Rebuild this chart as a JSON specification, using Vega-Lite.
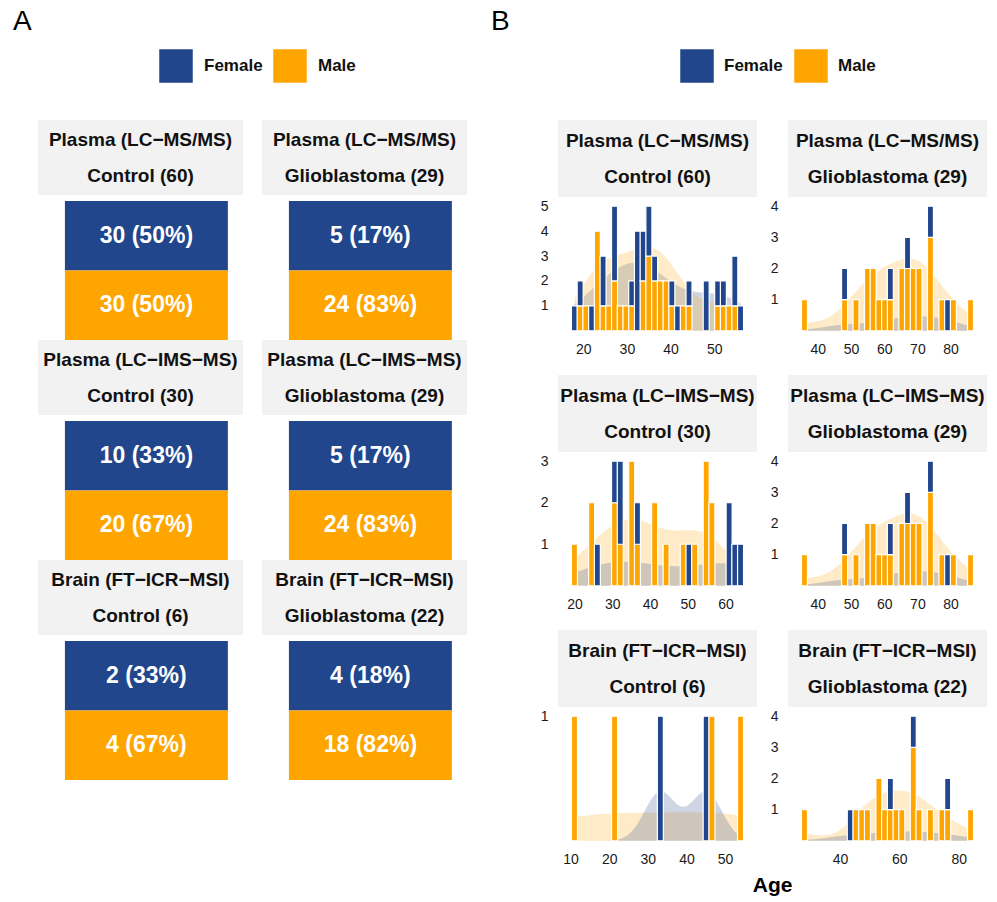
{
  "$schema": "https://vega.github.io/schema/vega-lite/v6.json",
  "padding": {"left": 13, "top": 8, "right": 5, "bottom": 3},
  "background": "white",
  "config": {
    "font": "Liberation Sans",
    "view": {"stroke": null},
    "axis": {"grid": false, "ticks": false, "domain": false, "labelFontSize": 14, "labelColor": "#1a1a1a", "labelFont": "Liberation Sans"},
    "axisX": {"labelPadding": 5},
    "axisY": {"labelPadding": 10},
    "title": {"font": "Liberation Sans", "color": "#000"},
    "text": {"font": "Liberation Sans"}
  },
  "datasets": {
    "panels": [
      {"p": 1, "tech": "Plasma (LC−MS/MS)", "grp": "Control (60)"},
      {"p": 2, "tech": "Plasma (LC−MS/MS)", "grp": "Glioblastoma (29)"},
      {"p": 3, "tech": "Plasma (LC−IMS−MS)", "grp": "Control (30)"},
      {"p": 4, "tech": "Plasma (LC−IMS−MS)", "grp": "Glioblastoma (29)"},
      {"p": 5, "tech": "Brain (FT−ICR−MSI)", "grp": "Control (6)"},
      {"p": 6, "tech": "Brain (FT−ICR−MSI)", "grp": "Glioblastoma (22)"}
    ],
    "legend": [{"s": "F", "lab": "Female"}, {"s": "M", "lab": "Male"}],
    "acounts": [
      {"p": 1, "s": "F", "n": 30, "lab": "30 (50%)"}, {"p": 1, "s": "M", "n": 30, "lab": "30 (50%)"},
      {"p": 2, "s": "F", "n": 5, "lab": "5 (17%)"}, {"p": 2, "s": "M", "n": 24, "lab": "24 (83%)"},
      {"p": 3, "s": "F", "n": 10, "lab": "10 (33%)"}, {"p": 3, "s": "M", "n": 20, "lab": "20 (67%)"},
      {"p": 4, "s": "F", "n": 5, "lab": "5 (17%)"}, {"p": 4, "s": "M", "n": 24, "lab": "24 (83%)"},
      {"p": 5, "s": "F", "n": 2, "lab": "2 (33%)"}, {"p": 5, "s": "M", "n": 4, "lab": "4 (67%)"},
      {"p": 6, "s": "F", "n": 4, "lab": "4 (18%)"}, {"p": 6, "s": "M", "n": 18, "lab": "18 (82%)"}
    ],
    "ages": [
      {"p":1,"s":"F","a":18},
      {"p":1,"s":"M","a":19.31},{"p":1,"s":"F","a":19.31},
      {"p":1,"s":"M","a":20.62},
      {"p":1,"s":"F","a":21.93},
      {"p":1,"s":"M","a":23.24},{"p":1,"s":"M","a":23.24},{"p":1,"s":"M","a":23.24},{"p":1,"s":"M","a":23.24},
      {"p":1,"s":"M","a":24.55},{"p":1,"s":"F","a":24.55},{"p":1,"s":"F","a":24.55},
      {"p":1,"s":"M","a":25.86},
      {"p":1,"s":"M","a":27.17},{"p":1,"s":"M","a":27.17},{"p":1,"s":"F","a":27.17},{"p":1,"s":"F","a":27.17},{"p":1,"s":"F","a":27.17},
      {"p":1,"s":"M","a":28.48},
      {"p":1,"s":"M","a":29.79},
      {"p":1,"s":"M","a":31.1},{"p":1,"s":"F","a":31.1},
      {"p":1,"s":"F","a":32.41},{"p":1,"s":"F","a":32.41},{"p":1,"s":"F","a":32.41},{"p":1,"s":"F","a":32.41},
      {"p":1,"s":"M","a":33.72},{"p":1,"s":"M","a":33.72},{"p":1,"s":"F","a":33.72},{"p":1,"s":"F","a":33.72},
      {"p":1,"s":"M","a":35.03},{"p":1,"s":"M","a":35.03},{"p":1,"s":"M","a":35.03},{"p":1,"s":"F","a":35.03},{"p":1,"s":"F","a":35.03},
      {"p":1,"s":"M","a":36.34},{"p":1,"s":"M","a":36.34},{"p":1,"s":"F","a":36.34},
      {"p":1,"s":"M","a":37.66},{"p":1,"s":"M","a":37.66},
      {"p":1,"s":"M","a":38.97},{"p":1,"s":"M","a":38.97},
      {"p":1,"s":"M","a":40.28},{"p":1,"s":"F","a":40.28},
      {"p":1,"s":"F","a":41.59},
      {"p":1,"s":"M","a":42.9},
      {"p":1,"s":"M","a":44.21},{"p":1,"s":"F","a":44.21},
      {"p":1,"s":"F","a":48.14},{"p":1,"s":"F","a":48.14},
      {"p":1,"s":"M","a":50.76},{"p":1,"s":"F","a":50.76},
      {"p":1,"s":"M","a":52.07},{"p":1,"s":"F","a":52.07},
      {"p":1,"s":"M","a":53.38},
      {"p":1,"s":"M","a":54.69},{"p":1,"s":"F","a":54.69},{"p":1,"s":"F","a":54.69},
      {"p":1,"s":"F","a":56},

      {"p":2,"s":"M","a":36},
      {"p":2,"s":"M","a":48.07},{"p":2,"s":"F","a":48.07},
      {"p":2,"s":"M","a":51.52},
      {"p":2,"s":"M","a":54.97},{"p":2,"s":"M","a":54.97},
      {"p":2,"s":"M","a":56.69},{"p":2,"s":"M","a":56.69},
      {"p":2,"s":"M","a":58.41},
      {"p":2,"s":"M","a":60.14},
      {"p":2,"s":"M","a":61.86},{"p":2,"s":"F","a":61.86},
      {"p":2,"s":"M","a":65.31},{"p":2,"s":"M","a":65.31},
      {"p":2,"s":"M","a":67.03},{"p":2,"s":"M","a":67.03},{"p":2,"s":"F","a":67.03},
      {"p":2,"s":"M","a":68.76},{"p":2,"s":"M","a":68.76},
      {"p":2,"s":"M","a":70.48},{"p":2,"s":"M","a":70.48},
      {"p":2,"s":"M","a":73.93},{"p":2,"s":"M","a":73.93},{"p":2,"s":"M","a":73.93},{"p":2,"s":"F","a":73.93},
      {"p":2,"s":"M","a":77.38},
      {"p":2,"s":"F","a":79.1},
      {"p":2,"s":"M","a":80.83},
      {"p":2,"s":"M","a":86},

      {"p":3,"s":"M","a":20},
      {"p":3,"s":"M","a":24.55},{"p":3,"s":"M","a":24.55},
      {"p":3,"s":"F","a":26.07},
      {"p":3,"s":"M","a":30.62},{"p":3,"s":"M","a":30.62},{"p":3,"s":"F","a":30.62},
      {"p":3,"s":"M","a":32.14},{"p":3,"s":"F","a":32.14},{"p":3,"s":"F","a":32.14},
      {"p":3,"s":"M","a":35.17},{"p":3,"s":"M","a":35.17},{"p":3,"s":"M","a":35.17},
      {"p":3,"s":"M","a":36.69},{"p":3,"s":"F","a":36.69},
      {"p":3,"s":"M","a":41.24},{"p":3,"s":"M","a":41.24},
      {"p":3,"s":"M","a":44.28},
      {"p":3,"s":"M","a":48.83},
      {"p":3,"s":"F","a":50.34},
      {"p":3,"s":"M","a":51.86},
      {"p":3,"s":"M","a":54.9},{"p":3,"s":"M","a":54.9},{"p":3,"s":"M","a":54.9},
      {"p":3,"s":"M","a":56.41},{"p":3,"s":"M","a":56.41},
      {"p":3,"s":"F","a":60.97},{"p":3,"s":"F","a":60.97},
      {"p":3,"s":"F","a":62.48},
      {"p":3,"s":"F","a":64},

      {"p":5,"s":"M","a":11},
      {"p":5,"s":"M","a":21.38},
      {"p":5,"s":"F","a":33.24},
      {"p":5,"s":"F","a":45.1},
      {"p":5,"s":"M","a":46.59},
      {"p":5,"s":"M","a":54},

      {"p":6,"s":"M","a":28},
      {"p":6,"s":"F","a":43.45},
      {"p":6,"s":"M","a":45.38},
      {"p":6,"s":"M","a":47.31},
      {"p":6,"s":"M","a":49.24},
      {"p":6,"s":"M","a":53.1},{"p":6,"s":"M","a":53.1},
      {"p":6,"s":"M","a":55.03},
      {"p":6,"s":"M","a":56.97},{"p":6,"s":"F","a":56.97},
      {"p":6,"s":"M","a":58.9},
      {"p":6,"s":"M","a":60.83},
      {"p":6,"s":"M","a":64.69},{"p":6,"s":"M","a":64.69},{"p":6,"s":"M","a":64.69},{"p":6,"s":"F","a":64.69},
      {"p":6,"s":"M","a":66.62},
      {"p":6,"s":"M","a":70.48},
      {"p":6,"s":"M","a":74.34},
      {"p":6,"s":"M","a":76.28},{"p":6,"s":"F","a":76.28},
      {"p":6,"s":"M","a":84}
    ]
  },
  "spacing": 24,
  "hconcat": [
    {
      "title": {"text": "A", "anchor": "start", "frame": "group", "fontSize": 28, "fontWeight": "normal", "dx": -25, "offset": 10},
      "spacing": 34,
      "vconcat": [
        {
          "width": 429, "height": 40,
          "data": {"name": "legend"},
          "encoding": {"x": {"field": "s", "type": "nominal", "axis": null, "scale": {"type": "point", "range": [121, 235], "padding": 0}}},
          "layer": [
            {"mark": {"type": "square", "size": 1156, "opacity": 1, "xOffset": 17, "stroke": "#ffffff", "strokeWidth": 0.5},
             "encoding": {"color": {"field": "s", "type": "nominal", "scale": {"domain": ["F", "M"], "range": ["#21468B", "#FFA500"]}, "legend": null}}},
            {"mark": {"type": "text", "align": "left", "dx": 45, "fontSize": 17, "fontWeight": "bold", "color": "#111"},
             "encoding": {"text": {"field": "lab"}}}
          ]
        },
        {
          "spacing": 0,
          "vconcat": [
            {"spacing": 19, "hconcat": [
              {"spacing": 6, "vconcat": [
                {"width": 205, "height": 75, "view": {"fill": "#f2f2f2", "stroke": null}, "data": {"name": "panels"}, "transform": [{"filter": "datum.p == 1"}],
                 "layer": [
                   {"mark": {"type": "text", "fontSize": 19, "fontWeight": "bold", "dy": -18, "color": "#111"}, "encoding": {"text": {"field": "tech"}}},
                   {"mark": {"type": "text", "fontSize": 19, "fontWeight": "bold", "dy": 18, "color": "#111"}, "encoding": {"text": {"field": "grp"}}}
                 ]},
                {"width": 205, "height": 139, "data": {"name": "acounts"}, "transform": [{"filter": "datum.p == 1"}],
                 "encoding": {
                   "x": {"field": "p", "type": "nominal", "axis": null, "scale": {"paddingInner": 0, "paddingOuter": 0.129, "align": 0.64}},
                   "y": {"field": "s", "type": "nominal", "axis": null, "sort": ["F", "M"], "scale": {"paddingInner": 0, "paddingOuter": 0}}
                 },
                 "layer": [
                   {"mark": {"type": "rect"}, "encoding": {"color": {"field": "s", "type": "nominal", "scale": {"domain": ["F", "M"], "range": ["#21468B", "#FFA500"]}, "legend": null}}},
                   {"mark": {"type": "text", "color": "white", "fontSize": 23, "fontWeight": "bold"}, "encoding": {"text": {"field": "lab"}}}
                 ]}
              ]},
              {"spacing": 6, "vconcat": [
                {"width": 205, "height": 75, "view": {"fill": "#f2f2f2", "stroke": null}, "data": {"name": "panels"}, "transform": [{"filter": "datum.p == 2"}],
                 "layer": [
                   {"mark": {"type": "text", "fontSize": 19, "fontWeight": "bold", "dy": -18, "color": "#111"}, "encoding": {"text": {"field": "tech"}}},
                   {"mark": {"type": "text", "fontSize": 19, "fontWeight": "bold", "dy": 18, "color": "#111"}, "encoding": {"text": {"field": "grp"}}}
                 ]},
                {"width": 205, "height": 139, "data": {"name": "acounts"}, "transform": [{"filter": "datum.p == 2"}],
                 "encoding": {
                   "x": {"field": "p", "type": "nominal", "axis": null, "scale": {"paddingInner": 0, "paddingOuter": 0.129, "align": 0.64}},
                   "y": {"field": "s", "type": "nominal", "axis": null, "sort": ["F", "M"], "scale": {"paddingInner": 0, "paddingOuter": 0}}
                 },
                 "layer": [
                   {"mark": {"type": "rect"}, "encoding": {"color": {"field": "s", "type": "nominal", "scale": {"domain": ["F", "M"], "range": ["#21468B", "#FFA500"]}, "legend": null}}},
                   {"mark": {"type": "text", "color": "white", "fontSize": 23, "fontWeight": "bold"}, "encoding": {"text": {"field": "lab"}}}
                 ]}
              ]}
            ]},
            {"spacing": 19, "hconcat": [
              {"spacing": 6, "vconcat": [
                {"width": 205, "height": 75, "view": {"fill": "#f2f2f2", "stroke": null}, "data": {"name": "panels"}, "transform": [{"filter": "datum.p == 3"}],
                 "layer": [
                   {"mark": {"type": "text", "fontSize": 19, "fontWeight": "bold", "dy": -18, "color": "#111"}, "encoding": {"text": {"field": "tech"}}},
                   {"mark": {"type": "text", "fontSize": 19, "fontWeight": "bold", "dy": 18, "color": "#111"}, "encoding": {"text": {"field": "grp"}}}
                 ]},
                {"width": 205, "height": 139, "data": {"name": "acounts"}, "transform": [{"filter": "datum.p == 3"}],
                 "encoding": {
                   "x": {"field": "p", "type": "nominal", "axis": null, "scale": {"paddingInner": 0, "paddingOuter": 0.129, "align": 0.64}},
                   "y": {"field": "s", "type": "nominal", "axis": null, "sort": ["F", "M"], "scale": {"paddingInner": 0, "paddingOuter": 0}}
                 },
                 "layer": [
                   {"mark": {"type": "rect"}, "encoding": {"color": {"field": "s", "type": "nominal", "scale": {"domain": ["F", "M"], "range": ["#21468B", "#FFA500"]}, "legend": null}}},
                   {"mark": {"type": "text", "color": "white", "fontSize": 23, "fontWeight": "bold"}, "encoding": {"text": {"field": "lab"}}}
                 ]}
              ]},
              {"spacing": 6, "vconcat": [
                {"width": 205, "height": 75, "view": {"fill": "#f2f2f2", "stroke": null}, "data": {"name": "panels"}, "transform": [{"filter": "datum.p == 4"}],
                 "layer": [
                   {"mark": {"type": "text", "fontSize": 19, "fontWeight": "bold", "dy": -18, "color": "#111"}, "encoding": {"text": {"field": "tech"}}},
                   {"mark": {"type": "text", "fontSize": 19, "fontWeight": "bold", "dy": 18, "color": "#111"}, "encoding": {"text": {"field": "grp"}}}
                 ]},
                {"width": 205, "height": 139, "data": {"name": "acounts"}, "transform": [{"filter": "datum.p == 4"}],
                 "encoding": {
                   "x": {"field": "p", "type": "nominal", "axis": null, "scale": {"paddingInner": 0, "paddingOuter": 0.129, "align": 0.64}},
                   "y": {"field": "s", "type": "nominal", "axis": null, "sort": ["F", "M"], "scale": {"paddingInner": 0, "paddingOuter": 0}}
                 },
                 "layer": [
                   {"mark": {"type": "rect"}, "encoding": {"color": {"field": "s", "type": "nominal", "scale": {"domain": ["F", "M"], "range": ["#21468B", "#FFA500"]}, "legend": null}}},
                   {"mark": {"type": "text", "color": "white", "fontSize": 23, "fontWeight": "bold"}, "encoding": {"text": {"field": "lab"}}}
                 ]}
              ]}
            ]},
            {"spacing": 19, "hconcat": [
              {"spacing": 6, "vconcat": [
                {"width": 205, "height": 75, "view": {"fill": "#f2f2f2", "stroke": null}, "data": {"name": "panels"}, "transform": [{"filter": "datum.p == 5"}],
                 "layer": [
                   {"mark": {"type": "text", "fontSize": 19, "fontWeight": "bold", "dy": -18, "color": "#111"}, "encoding": {"text": {"field": "tech"}}},
                   {"mark": {"type": "text", "fontSize": 19, "fontWeight": "bold", "dy": 18, "color": "#111"}, "encoding": {"text": {"field": "grp"}}}
                 ]},
                {"width": 205, "height": 139, "data": {"name": "acounts"}, "transform": [{"filter": "datum.p == 5"}],
                 "encoding": {
                   "x": {"field": "p", "type": "nominal", "axis": null, "scale": {"paddingInner": 0, "paddingOuter": 0.129, "align": 0.64}},
                   "y": {"field": "s", "type": "nominal", "axis": null, "sort": ["F", "M"], "scale": {"paddingInner": 0, "paddingOuter": 0}}
                 },
                 "layer": [
                   {"mark": {"type": "rect"}, "encoding": {"color": {"field": "s", "type": "nominal", "scale": {"domain": ["F", "M"], "range": ["#21468B", "#FFA500"]}, "legend": null}}},
                   {"mark": {"type": "text", "color": "white", "fontSize": 23, "fontWeight": "bold"}, "encoding": {"text": {"field": "lab"}}}
                 ]}
              ]},
              {"spacing": 6, "vconcat": [
                {"width": 205, "height": 75, "view": {"fill": "#f2f2f2", "stroke": null}, "data": {"name": "panels"}, "transform": [{"filter": "datum.p == 6"}],
                 "layer": [
                   {"mark": {"type": "text", "fontSize": 19, "fontWeight": "bold", "dy": -18, "color": "#111"}, "encoding": {"text": {"field": "tech"}}},
                   {"mark": {"type": "text", "fontSize": 19, "fontWeight": "bold", "dy": 18, "color": "#111"}, "encoding": {"text": {"field": "grp"}}}
                 ]},
                {"width": 205, "height": 139, "data": {"name": "acounts"}, "transform": [{"filter": "datum.p == 6"}],
                 "encoding": {
                   "x": {"field": "p", "type": "nominal", "axis": null, "scale": {"paddingInner": 0, "paddingOuter": 0.129, "align": 0.64}},
                   "y": {"field": "s", "type": "nominal", "axis": null, "sort": ["F", "M"], "scale": {"paddingInner": 0, "paddingOuter": 0}}
                 },
                 "layer": [
                   {"mark": {"type": "rect"}, "encoding": {"color": {"field": "s", "type": "nominal", "scale": {"domain": ["F", "M"], "range": ["#21468B", "#FFA500"]}, "legend": null}}},
                   {"mark": {"type": "text", "color": "white", "fontSize": 23, "fontWeight": "bold"}, "encoding": {"text": {"field": "lab"}}}
                 ]}
              ]}
            ]}
          ]
        }
      ]
    },
    {
      "title": {"text": "B", "anchor": "start", "frame": "group", "fontSize": 28, "fontWeight": "normal", "dx": -67, "offset": 10},
      "spacing": 34,
      "vconcat": [
        {
          "width": 429, "height": 40,
          "data": {"name": "legend"},
          "encoding": {"x": {"field": "s", "type": "nominal", "axis": null, "scale": {"type": "point", "range": [122, 236], "padding": 0}}},
          "layer": [
            {"mark": {"type": "square", "size": 1156, "opacity": 1, "xOffset": 17, "stroke": "#ffffff", "strokeWidth": 0.5},
             "encoding": {"color": {"field": "s", "type": "nominal", "scale": {"domain": ["F", "M"], "range": ["#21468B", "#FFA500"]}, "legend": null}}},
            {"mark": {"type": "text", "align": "left", "dx": 44, "fontSize": 17, "fontWeight": "bold", "color": "#111"},
             "encoding": {"text": {"field": "lab"}}}
          ]
        },
        {
          "spacing": 19,
          "vconcat": [
            {"spacing": 13, "hconcat": [
              {"spacing": 2, "vconcat": [
                {"width": 199, "height": 77, "view": {"fill": "#f2f2f2", "stroke": null}, "data": {"name": "panels"}, "transform": [{"filter": "datum.p == 1"}],
                 "layer": [
                   {"mark": {"type": "text", "fontSize": 19, "fontWeight": "bold", "dy": -18, "color": "#111"}, "encoding": {"text": {"field": "tech"}}},
                   {"mark": {"type": "text", "fontSize": 19, "fontWeight": "bold", "dy": 18, "color": "#111"}, "encoding": {"text": {"field": "grp"}}}
                 ]},
                {"width": 199, "height": 137, "data": {"name": "ages"}, "transform": [{"filter": "datum.p == 1"}],
                 "layer": [
                   {"transform": [{"density": "a", "groupby": ["s"], "extent": [18, 56], "counts": true, "steps": 150}],
                    "mark": {"type": "area", "opacity": 0.22},
                    "encoding": {
                      "x": {"field": "value", "type": "quantitative", "title": null, "scale": {"domain": [15.38, 58.62], "nice": false, "zero": false}, "axis": {"values": [20, 30, 40, 50]}},
                      "y": {"field": "density", "type": "quantitative", "stack": null, "title": null, "scale": {"domain": [-0.083, 1.75], "nice": false, "zero": false}, "axis": null},
                      "color": {"field": "s", "type": "nominal", "scale": {"domain": ["F", "M"], "range": ["#21468B", "#FFA500"]}, "legend": null}
                    }},
                   {"mark": {"type": "bar", "width": 6, "stroke": "white", "strokeWidth": 1.2},
                    "encoding": {
                      "x": {"field": "a", "type": "quantitative", "title": null, "scale": {"domain": [15.38, 58.62], "nice": false, "zero": false}, "axis": {"values": [20, 30, 40, 50]}},
                      "y": {"aggregate": "count", "type": "quantitative", "title": null, "scale": {"domain": [-0.25, 5.25], "nice": false, "zero": false}, "axis": {"values": [1, 2, 3, 4, 5], "orient": "left"}},
                      "color": {"field": "s", "type": "nominal", "scale": {"domain": ["F", "M"], "range": ["#21468B", "#FFA500"]}, "legend": null},
                      "order": {"field": "s", "sort": "descending"}
                    }}
                 ],
                 "resolve": {"scale": {"y": "independent"}}}
              ]},
              {"spacing": 2, "vconcat": [
                {"width": 199, "height": 77, "view": {"fill": "#f2f2f2", "stroke": null}, "data": {"name": "panels"}, "transform": [{"filter": "datum.p == 2"}],
                 "layer": [
                   {"mark": {"type": "text", "fontSize": 19, "fontWeight": "bold", "dy": -18, "color": "#111"}, "encoding": {"text": {"field": "tech"}}},
                   {"mark": {"type": "text", "fontSize": 19, "fontWeight": "bold", "dy": 18, "color": "#111"}, "encoding": {"text": {"field": "grp"}}}
                 ]},
                {"width": 199, "height": 137, "data": {"name": "ages"}, "transform": [{"filter": "datum.p == 2"}],
                 "layer": [
                   {"transform": [{"density": "a", "groupby": ["s"], "extent": [36, 86], "counts": true, "steps": 150}],
                    "mark": {"type": "area", "opacity": 0.22},
                    "encoding": {
                      "x": {"field": "value", "type": "quantitative", "title": null, "scale": {"domain": [32.55, 89.45], "nice": false, "zero": false}, "axis": {"values": [40, 50, 60, 70, 80]}},
                      "y": {"field": "density", "type": "quantitative", "stack": null, "title": null, "scale": {"domain": [-0.067, 1.4], "nice": false, "zero": false}, "axis": null},
                      "color": {"field": "s", "type": "nominal", "scale": {"domain": ["F", "M"], "range": ["#21468B", "#FFA500"]}, "legend": null}
                    }},
                   {"mark": {"type": "bar", "width": 6, "stroke": "white", "strokeWidth": 1.2},
                    "encoding": {
                      "x": {"field": "a", "type": "quantitative", "title": null, "scale": {"domain": [32.55, 89.45], "nice": false, "zero": false}, "axis": {"values": [40, 50, 60, 70, 80]}},
                      "y": {"aggregate": "count", "type": "quantitative", "title": null, "scale": {"domain": [-0.2, 4.2], "nice": false, "zero": false}, "axis": {"values": [1, 2, 3, 4], "orient": "left"}},
                      "color": {"field": "s", "type": "nominal", "scale": {"domain": ["F", "M"], "range": ["#21468B", "#FFA500"]}, "legend": null},
                      "order": {"field": "s", "sort": "descending"}
                    }}
                 ],
                 "resolve": {"scale": {"y": "independent"}}}
              ]}
            ]},
            {"spacing": 13, "hconcat": [
              {"spacing": 2, "vconcat": [
                {"width": 199, "height": 77, "view": {"fill": "#f2f2f2", "stroke": null}, "data": {"name": "panels"}, "transform": [{"filter": "datum.p == 3"}],
                 "layer": [
                   {"mark": {"type": "text", "fontSize": 19, "fontWeight": "bold", "dy": -18, "color": "#111"}, "encoding": {"text": {"field": "tech"}}},
                   {"mark": {"type": "text", "fontSize": 19, "fontWeight": "bold", "dy": 18, "color": "#111"}, "encoding": {"text": {"field": "grp"}}}
                 ]},
                {"width": 199, "height": 137, "data": {"name": "ages"}, "transform": [{"filter": "datum.p == 3"}],
                 "layer": [
                   {"transform": [{"density": "a", "groupby": ["s"], "extent": [20, 64], "counts": true, "steps": 150}],
                    "mark": {"type": "area", "opacity": 0.22},
                    "encoding": {
                      "x": {"field": "value", "type": "quantitative", "title": null, "scale": {"domain": [16.97, 67.03], "nice": false, "zero": false}, "axis": {"values": [20, 30, 40, 50, 60]}},
                      "y": {"field": "density", "type": "quantitative", "stack": null, "title": null, "scale": {"domain": [-0.05, 1.05], "nice": false, "zero": false}, "axis": null},
                      "color": {"field": "s", "type": "nominal", "scale": {"domain": ["F", "M"], "range": ["#21468B", "#FFA500"]}, "legend": null}
                    }},
                   {"mark": {"type": "bar", "width": 6, "stroke": "white", "strokeWidth": 1.2},
                    "encoding": {
                      "x": {"field": "a", "type": "quantitative", "title": null, "scale": {"domain": [16.97, 67.03], "nice": false, "zero": false}, "axis": {"values": [20, 30, 40, 50, 60]}},
                      "y": {"aggregate": "count", "type": "quantitative", "title": null, "scale": {"domain": [-0.15, 3.15], "nice": false, "zero": false}, "axis": {"values": [1, 2, 3], "orient": "left"}},
                      "color": {"field": "s", "type": "nominal", "scale": {"domain": ["F", "M"], "range": ["#21468B", "#FFA500"]}, "legend": null},
                      "order": {"field": "s", "sort": "descending"}
                    }}
                 ],
                 "resolve": {"scale": {"y": "independent"}}}
              ]},
              {"spacing": 2, "vconcat": [
                {"width": 199, "height": 77, "view": {"fill": "#f2f2f2", "stroke": null}, "data": {"name": "panels"}, "transform": [{"filter": "datum.p == 4"}],
                 "layer": [
                   {"mark": {"type": "text", "fontSize": 19, "fontWeight": "bold", "dy": -18, "color": "#111"}, "encoding": {"text": {"field": "tech"}}},
                   {"mark": {"type": "text", "fontSize": 19, "fontWeight": "bold", "dy": 18, "color": "#111"}, "encoding": {"text": {"field": "grp"}}}
                 ]},
                {"width": 199, "height": 137, "data": {"name": "ages"}, "transform": [{"filter": "datum.p == 2"}],
                 "layer": [
                   {"transform": [{"density": "a", "groupby": ["s"], "extent": [36, 86], "counts": true, "steps": 150}],
                    "mark": {"type": "area", "opacity": 0.22},
                    "encoding": {
                      "x": {"field": "value", "type": "quantitative", "title": null, "scale": {"domain": [32.55, 89.45], "nice": false, "zero": false}, "axis": {"values": [40, 50, 60, 70, 80]}},
                      "y": {"field": "density", "type": "quantitative", "stack": null, "title": null, "scale": {"domain": [-0.067, 1.4], "nice": false, "zero": false}, "axis": null},
                      "color": {"field": "s", "type": "nominal", "scale": {"domain": ["F", "M"], "range": ["#21468B", "#FFA500"]}, "legend": null}
                    }},
                   {"mark": {"type": "bar", "width": 6, "stroke": "white", "strokeWidth": 1.2},
                    "encoding": {
                      "x": {"field": "a", "type": "quantitative", "title": null, "scale": {"domain": [32.55, 89.45], "nice": false, "zero": false}, "axis": {"values": [40, 50, 60, 70, 80]}},
                      "y": {"aggregate": "count", "type": "quantitative", "title": null, "scale": {"domain": [-0.2, 4.2], "nice": false, "zero": false}, "axis": {"values": [1, 2, 3, 4], "orient": "left"}},
                      "color": {"field": "s", "type": "nominal", "scale": {"domain": ["F", "M"], "range": ["#21468B", "#FFA500"]}, "legend": null},
                      "order": {"field": "s", "sort": "descending"}
                    }}
                 ],
                 "resolve": {"scale": {"y": "independent"}}}
              ]}
            ]},
            {"spacing": 13,
             "title": {"text": "Age", "orient": "bottom", "anchor": "middle", "fontSize": 21, "fontWeight": "bold", "offset": 9, "dx": 9},
             "hconcat": [
              {"spacing": 2, "vconcat": [
                {"width": 199, "height": 77, "view": {"fill": "#f2f2f2", "stroke": null}, "data": {"name": "panels"}, "transform": [{"filter": "datum.p == 5"}],
                 "layer": [
                   {"mark": {"type": "text", "fontSize": 19, "fontWeight": "bold", "dy": -18, "color": "#111"}, "encoding": {"text": {"field": "tech"}}},
                   {"mark": {"type": "text", "fontSize": 19, "fontWeight": "bold", "dy": 18, "color": "#111"}, "encoding": {"text": {"field": "grp"}}}
                 ]},
                {"width": 199, "height": 137, "data": {"name": "ages"}, "transform": [{"filter": "datum.p == 5"}],
                 "layer": [
                   {"transform": [{"density": "a", "groupby": ["s"], "extent": [11, 54], "counts": true, "steps": 150}],
                    "mark": {"type": "area", "opacity": 0.22},
                    "encoding": {
                      "x": {"field": "value", "type": "quantitative", "title": null, "scale": {"domain": [8.03, 56.97], "nice": false, "zero": false}, "axis": {"values": [10, 20, 30, 40, 50]}},
                      "y": {"field": "density", "type": "quantitative", "stack": null, "title": null, "scale": {"domain": [-0.0125, 0.2625], "nice": false, "zero": false}, "axis": null},
                      "color": {"field": "s", "type": "nominal", "scale": {"domain": ["F", "M"], "range": ["#21468B", "#FFA500"]}, "legend": null}
                    }},
                   {"mark": {"type": "bar", "width": 6, "stroke": "white", "strokeWidth": 1.2},
                    "encoding": {
                      "x": {"field": "a", "type": "quantitative", "title": null, "scale": {"domain": [8.03, 56.97], "nice": false, "zero": false}, "axis": {"values": [10, 20, 30, 40, 50]}},
                      "y": {"aggregate": "count", "type": "quantitative", "title": null, "scale": {"domain": [-0.05, 1.05], "nice": false, "zero": false}, "axis": {"values": [1], "orient": "left"}},
                      "color": {"field": "s", "type": "nominal", "scale": {"domain": ["F", "M"], "range": ["#21468B", "#FFA500"]}, "legend": null},
                      "order": {"field": "s", "sort": "descending"}
                    }}
                 ],
                 "resolve": {"scale": {"y": "independent"}}}
              ]},
              {"spacing": 2, "vconcat": [
                {"width": 199, "height": 77, "view": {"fill": "#f2f2f2", "stroke": null}, "data": {"name": "panels"}, "transform": [{"filter": "datum.p == 6"}],
                 "layer": [
                   {"mark": {"type": "text", "fontSize": 19, "fontWeight": "bold", "dy": -18, "color": "#111"}, "encoding": {"text": {"field": "tech"}}},
                   {"mark": {"type": "text", "fontSize": 19, "fontWeight": "bold", "dy": 18, "color": "#111"}, "encoding": {"text": {"field": "grp"}}}
                 ]},
                {"width": 199, "height": 137, "data": {"name": "ages"}, "transform": [{"filter": "datum.p == 6"}],
                 "layer": [
                   {"transform": [{"density": "a", "groupby": ["s"], "extent": [28, 84], "counts": true, "steps": 150}],
                    "mark": {"type": "area", "opacity": 0.22},
                    "encoding": {
                      "x": {"field": "value", "type": "quantitative", "title": null, "scale": {"domain": [24.14, 87.86], "nice": false, "zero": false}, "axis": {"values": [40, 60, 80]}},
                      "y": {"field": "density", "type": "quantitative", "stack": null, "title": null, "scale": {"domain": [-0.067, 1.4], "nice": false, "zero": false}, "axis": null},
                      "color": {"field": "s", "type": "nominal", "scale": {"domain": ["F", "M"], "range": ["#21468B", "#FFA500"]}, "legend": null}
                    }},
                   {"mark": {"type": "bar", "width": 6, "stroke": "white", "strokeWidth": 1.2},
                    "encoding": {
                      "x": {"field": "a", "type": "quantitative", "title": null, "scale": {"domain": [24.14, 87.86], "nice": false, "zero": false}, "axis": {"values": [40, 60, 80]}},
                      "y": {"aggregate": "count", "type": "quantitative", "title": null, "scale": {"domain": [-0.2, 4.2], "nice": false, "zero": false}, "axis": {"values": [1, 2, 3, 4], "orient": "left"}},
                      "color": {"field": "s", "type": "nominal", "scale": {"domain": ["F", "M"], "range": ["#21468B", "#FFA500"]}, "legend": null},
                      "order": {"field": "s", "sort": "descending"}
                    }}
                 ],
                 "resolve": {"scale": {"y": "independent"}}}
              ]}
            ]}
          ]
        }
      ]
    }
  ]
}
